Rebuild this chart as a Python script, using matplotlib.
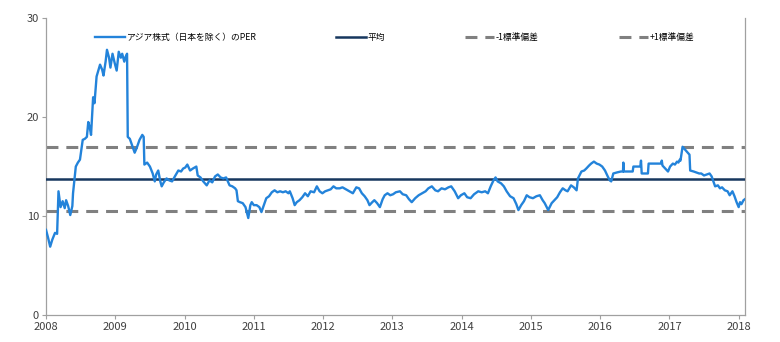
import matplotlib.pyplot as plt

plt.rcParams['font.family'] = ['Noto Sans CJK JP', 'DejaVu Sans']

# アジア株式（日本を除く）のPER, 時点は小数表記の年
years = [
    2008.00, 2008.03, 2008.06, 2008.09, 2008.13, 2008.16, 2008.18, 2008.21, 2008.24, 2008.27,
    2008.29, 2008.32, 2008.35, 2008.38, 2008.39, 2008.43, 2008.46, 2008.49, 2008.53, 2008.56,
    2008.59, 2008.61, 2008.63, 2008.65, 2008.68, 2008.70, 2008.73, 2008.76, 2008.78, 2008.81,
    2008.83, 2008.86, 2008.88, 2008.91, 2008.93, 2008.96, 2008.99, 2009.02, 2009.05, 2009.08,
    2009.10, 2009.13, 2009.15, 2009.17, 2009.18, 2009.21, 2009.24, 2009.28, 2009.31, 2009.35,
    2009.39, 2009.41, 2009.42, 2009.46, 2009.50, 2009.54, 2009.57, 2009.59, 2009.62, 2009.65,
    2009.67, 2009.70, 2009.74, 2009.78, 2009.82, 2009.86, 2009.91, 2009.95, 2009.98, 2010.01,
    2010.04, 2010.08, 2010.12, 2010.17, 2010.19, 2010.23, 2010.27, 2010.32, 2010.36, 2010.40,
    2010.44, 2010.48, 2010.52, 2010.56, 2010.60, 2010.65, 2010.69, 2010.73, 2010.75, 2010.77,
    2010.80, 2010.84, 2010.88, 2010.92, 2010.95, 2010.97, 2011.00, 2011.04, 2011.08, 2011.11,
    2011.14, 2011.18, 2011.22, 2011.26, 2011.30, 2011.34, 2011.38, 2011.42, 2011.46, 2011.50,
    2011.52, 2011.56, 2011.59, 2011.62, 2011.66, 2011.70, 2011.74, 2011.78, 2011.82, 2011.87,
    2011.91, 2011.95, 2011.99, 2012.03, 2012.07, 2012.11, 2012.15, 2012.19, 2012.24, 2012.28,
    2012.33, 2012.38, 2012.43, 2012.48, 2012.52, 2012.56, 2012.60, 2012.64, 2012.67, 2012.71,
    2012.74, 2012.78, 2012.82, 2012.86, 2012.89, 2012.93, 2012.97, 2013.01, 2013.05, 2013.11,
    2013.15, 2013.20, 2013.24, 2013.28, 2013.33, 2013.38, 2013.43, 2013.48, 2013.52, 2013.57,
    2013.62, 2013.66, 2013.71, 2013.76, 2013.81, 2013.85, 2013.90, 2013.95, 2013.99, 2014.04,
    2014.08, 2014.13, 2014.18, 2014.24, 2014.29, 2014.34, 2014.38, 2014.42, 2014.46, 2014.49,
    2014.52, 2014.57, 2014.61, 2014.65, 2014.70, 2014.75, 2014.79, 2014.82, 2014.86, 2014.90,
    2014.94, 2014.98, 2015.03, 2015.08, 2015.13, 2015.17, 2015.20, 2015.25, 2015.30, 2015.34,
    2015.38, 2015.42, 2015.46, 2015.50, 2015.53, 2015.58, 2015.62, 2015.66, 2015.68, 2015.73,
    2015.77, 2015.80, 2015.84, 2015.87, 2015.91, 2015.95, 2015.99, 2016.03, 2016.07, 2016.11,
    2016.14, 2016.16, 2016.19, 2016.24, 2016.30, 2016.33, 2016.335, 2016.34, 2016.47, 2016.48,
    2016.58, 2016.59, 2016.60, 2016.69, 2016.70, 2016.88, 2016.89, 2016.90, 2016.94, 2016.98,
    2017.01, 2017.05, 2017.08, 2017.11, 2017.13, 2017.15, 2017.16, 2017.19, 2017.24, 2017.29,
    2017.30, 2017.35, 2017.39, 2017.43, 2017.46, 2017.50, 2017.54, 2017.58, 2017.61, 2017.63,
    2017.66, 2017.70, 2017.73, 2017.76, 2017.80, 2017.84, 2017.87, 2017.91, 2017.94, 2017.97,
    2018.00, 2018.02, 2018.04, 2018.07, 2018.09,
]
per = [
    8.6, 7.8, 6.9, 7.6, 8.3, 8.2, 12.5, 10.9, 11.5, 10.8,
    11.6, 11.0, 10.1, 11.0, 12.3, 15.0, 15.4, 15.7, 17.7, 17.8,
    18.0, 19.5, 19.0, 18.2, 22.0, 21.4, 24.1, 24.8, 25.3, 24.8,
    24.2, 25.6, 26.8, 26.0, 25.0, 26.4, 25.5, 24.7, 26.6, 26.0,
    26.4, 25.6, 26.1, 26.4, 18.0, 17.8, 17.2, 16.4, 16.9, 17.7,
    18.2, 18.0, 15.2, 15.4, 15.0, 14.3, 13.5, 14.2, 14.6, 13.5,
    13.0, 13.4, 13.8, 13.6, 13.5, 14.0, 14.6, 14.5, 14.8, 14.9,
    15.2, 14.6, 14.8, 15.0, 14.1, 13.9, 13.5, 13.1, 13.6, 13.4,
    14.0, 14.2, 13.9, 13.8, 13.9, 13.1, 13.0, 12.8, 12.6, 11.5,
    11.4, 11.3, 10.9, 9.8, 11.1, 11.4, 11.1, 11.1, 10.9, 10.4,
    11.0, 11.8, 12.0, 12.4, 12.6, 12.4, 12.5, 12.4, 12.5, 12.3,
    12.5, 11.8, 11.1, 11.4, 11.6, 11.9, 12.3, 12.0, 12.5, 12.4,
    13.0, 12.5, 12.3, 12.5, 12.6, 12.7, 13.0, 12.8, 12.8, 12.9,
    12.7, 12.5, 12.3, 12.9, 12.8, 12.3, 12.0, 11.6, 11.1, 11.4,
    11.6, 11.3, 10.9, 11.7, 12.1, 12.3, 12.1, 12.2, 12.4, 12.5,
    12.2, 12.1, 11.7, 11.4, 11.8, 12.1, 12.3, 12.5, 12.8, 13.0,
    12.6, 12.5, 12.8, 12.7, 12.9, 13.0, 12.5, 11.8, 12.1, 12.3,
    11.9, 11.8, 12.2, 12.5, 12.4, 12.5, 12.3, 13.0, 13.6, 13.9,
    13.5, 13.3, 13.0, 12.5, 12.0, 11.8, 11.2, 10.6, 11.1, 11.5,
    12.1, 11.9, 11.8, 12.0, 12.1, 11.6, 11.3, 10.6, 11.3, 11.6,
    11.9, 12.4, 12.8, 12.6, 12.5, 13.1, 12.9, 12.6, 13.8, 14.5,
    14.6, 14.8, 15.1, 15.3, 15.5, 15.3, 15.2, 15.0, 14.6, 14.0,
    13.6, 13.5, 14.3, 14.4, 14.5, 14.5, 15.4, 14.5, 14.5, 15.0,
    15.0, 15.6, 14.3, 14.3, 15.3, 15.3, 15.6, 15.1, 14.8, 14.5,
    15.0, 15.3, 15.2, 15.5, 15.4, 15.7, 15.6, 17.0, 16.6, 16.2,
    14.6, 14.5, 14.4, 14.3, 14.3, 14.1, 14.2, 14.3, 14.0, 13.6,
    13.0, 13.1, 12.8, 12.9, 12.6, 12.5, 12.1, 12.5, 12.0, 11.4,
    10.9, 11.4, 11.2, 11.6, 11.7,
]

mean_per = 13.7
lower_per = 10.5   # -1標準偏差
upper_per = 16.95  # +1標準偏差

x_ticks = list(range(2008, 2019))
y_ticks = [0, 10, 20, 30]

fig = plt.figure(figsize=(7.8, 3.42), dpi=100)
ax = fig.add_axes([0.059, 0.079, 0.896, 0.868])

ax.plot(years, per, color='#2383da', lw=1.7, label='アジア株式（日本を除く）のPER', zorder=4)
ax.axhline(mean_per, color='#17375e', lw=1.8, label='平均', zorder=3)
ax.axhline(lower_per, color='#808080', lw=2.2, dashes=(3.9, 2.6), label='-1標準偏差', zorder=2)
ax.axhline(upper_per, color='#808080', lw=2.2, dashes=(3.9, 2.6), label='+1標準偏差', zorder=2)

ax.set_xlim(2008, 2018.09)
ax.set_ylim(0, 30)
ax.set_xticks(x_ticks)
ax.set_yticks(y_ticks)
ax.tick_params(axis='both', direction='out', length=3, width=0.8, color='#a0a0a0',
               labelsize=8, labelcolor='#404040', pad=2)

ax.spines['top'].set_visible(False)
for side in ['left', 'bottom', 'right']:
    ax.spines[side].set_color('#a0a0a0')
    ax.spines[side].set_linewidth(0.9)

ax.legend(loc='center left', bbox_to_anchor=(0.07, 0.936), ncol=4, frameon=False,
          fontsize=6.3, handlelength=3.4, handletextpad=0.2, columnspacing=9.1,
          borderpad=0, borderaxespad=0)

fig.savefig('out.png', dpi=100)
